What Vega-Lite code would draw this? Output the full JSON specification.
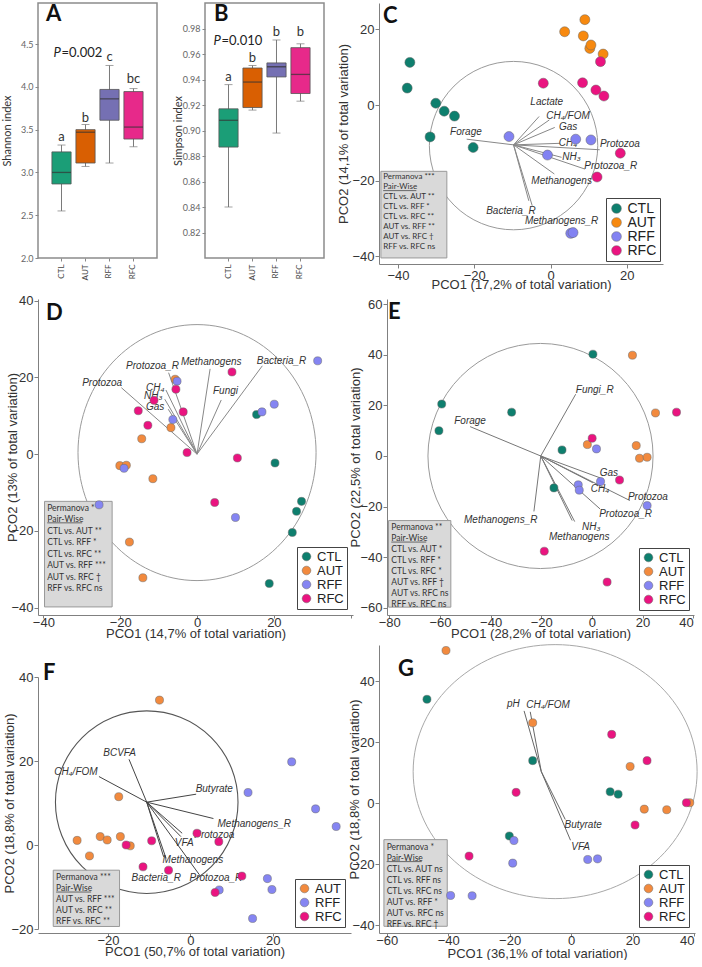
{
"$schema": "https://vega.github.io/schema/vega-lite/v6.json",
"padding": {"left": 0, "top": 2, "right": 0, "bottom": 0},
"background": "white",
"config": {
  "view": {"stroke": null},
  "font": "Liberation Sans",
  "axis": {"labelFont": "Liberation Sans", "labelFontSize": 13, "labelColor": "#333", "titleFont": "Liberation Sans", "titleFontSize": 13, "titleFontWeight": "normal", "titleColor": "#333", "domainColor": "#808080", "tickColor": "#808080", "tickSize": 4, "labelPadding": 1, "grid": false, "labelOverlap": false},
  "legend": {"orient": "bottom-right", "padding": 3, "strokeColor": "#444", "fillColor": "#ffffff", "labelFont": "Liberation Sans", "labelFontSize": 13, "labelColor": "#222", "symbolType": "circle", "symbolSize": 75, "symbolStrokeWidth": 0.5, "symbolStrokeColor": "#666", "rowPadding": 0, "labelOffset": 4, "titlePadding": 0},
  "title": {"anchor": "start", "frame": "group", "font": "Lato", "fontSize": 22, "fontWeight": "bold", "color": "#111", "baseline": "alphabetic"}
},
"resolve": {"scale": {"color": "independent"}, "legend": {"color": "independent"}},
"spacing": 2,
"vconcat": [
{
 "spacing": 48,
 "bounds": "flush",
 "resolve": {"scale": {"color": "independent"}, "legend": {"color": "independent"}},
 "hconcat": [
 {
  "width": 119, "height": 255,
  "view": {"stroke": "#8c8c8c", "strokeWidth": 1.5},
  "title": {"text": "A", "offset": -23, "dx": 8},
  "data": {"values": [
    {"g": "CTL", "lo": 2.55, "q1": 2.865, "med": 3.0, "q3": 3.24, "hi": 3.32, "lab": "a", "ly": 3.415},
    {"g": "AUT", "lo": 3.07, "q1": 3.11, "med": 3.47, "q3": 3.5, "hi": 3.56, "lab": "b", "ly": 3.64},
    {"g": "RFF", "lo": 3.11, "q1": 3.61, "med": 3.86, "q3": 3.97, "hi": 4.25, "lab": "c", "ly": 4.35},
    {"g": "RFC", "lo": 3.3, "q1": 3.39, "med": 3.53, "q3": 3.945, "hi": 3.98, "lab": "bc", "ly": 4.09}
  ]},
  "encoding": {
    "x": {"field": "g", "type": "nominal", "sort": null, "scale": {"domain": ["CTL", "AUT", "RFF", "RFC"], "paddingInner": 0.2, "paddingOuter": 0.58}, "axis": {"title": null, "labelAngle": -90, "labelFont": "Lato", "labelFontSize": 8, "labelColor": "#444", "domain": false, "tickSize": 3, "tickColor": "#888", "labelPadding": 3}}
  },
  "layer": [
    {"mark": {"type": "rule", "color": "#7a7a7a", "strokeWidth": 1}, "encoding": {"y": {"field": "lo", "type": "quantitative", "title": "Shannon index", "scale": {"domain": [2, 4.98], "nice": false, "zero": false}, "axis": {"values": [2, 2.5, 3, 3.5, 4, 4.5], "tickCount": 10, "format": ".1f", "labelFont": "Lato", "labelFontSize": 9, "labelColor": "#666", "titleFont": "Lato", "titleFontSize": 11, "titleColor": "#333", "domain": false, "tickSize": 3, "tickColor": "#888", "labelPadding": 2, "titleX": -25.5, "titleBaseline": "bottom"}}, "y2": {"field": "hi"}}},
    {"mark": {"type": "tick", "color": "#7a7a7a", "size": 8, "thickness": 1}, "encoding": {"y": {"field": "lo", "type": "quantitative", "title": "Shannon index"}}},
    {"mark": {"type": "tick", "color": "#7a7a7a", "size": 8, "thickness": 1}, "encoding": {"y": {"field": "hi", "type": "quantitative", "title": "Shannon index"}}},
    {"mark": {"type": "bar", "stroke": "#555", "strokeWidth": 0.8}, "encoding": {"y": {"field": "q1", "type": "quantitative", "title": "Shannon index"}, "y2": {"field": "q3"}, "color": {"field": "g", "type": "nominal", "scale": {"domain": ["CTL", "AUT", "RFF", "RFC"], "range": ["#1b9e77", "#d95f02", "#7570b3", "#e7298a"]}, "legend": null}}},
    {"mark": {"type": "tick", "color": "#333", "size": 19, "thickness": 1.3}, "encoding": {"y": {"field": "med", "type": "quantitative", "title": "Shannon index"}}},
    {"mark": {"type": "text", "font": "Lato", "fontSize": 13, "color": "#333"}, "encoding": {"y": {"field": "ly", "type": "quantitative", "title": "Shannon index"}, "text": {"field": "lab", "type": "nominal"}}},
    {"data": {"values": [{"g": "CTL", "py": 4.39, "t1": "P", "t2": "=0.002"}]}, "mark": {"type": "text", "font": "Lato", "fontSize": 13, "fontStyle": "italic", "align": "left", "color": "#222", "dx": -8}, "encoding": {"y": {"field": "py", "type": "quantitative", "title": "Shannon index"}, "text": {"field": "t1", "type": "nominal"}}},
    {"data": {"values": [{"g": "CTL", "py": 4.39, "t1": "P", "t2": "=0.002"}]}, "mark": {"type": "text", "font": "Lato", "fontSize": 13, "align": "left", "color": "#222", "dx": 0}, "encoding": {"y": {"field": "py", "type": "quantitative", "title": "Shannon index"}, "text": {"field": "t2", "type": "nominal"}}}
  ]
 },
 {
  "width": 119, "height": 255,
  "view": {"stroke": "#8c8c8c", "strokeWidth": 1.5},
  "title": {"text": "B", "offset": -23, "dx": 9},
  "data": {"values": [
    {"g": "CTL", "lo": 0.84, "q1": 0.887, "med": 0.908, "q3": 0.917, "hi": 0.936, "lab": "a", "ly": 0.9417},
    {"g": "AUT", "lo": 0.916, "q1": 0.918, "med": 0.938, "q3": 0.949, "hi": 0.951, "lab": "b", "ly": 0.9571},
    {"g": "RFF", "lo": 0.898, "q1": 0.942, "med": 0.95, "q3": 0.953, "hi": 0.971, "lab": "b", "ly": 0.9773},
    {"g": "RFC", "lo": 0.923, "q1": 0.929, "med": 0.944, "q3": 0.965, "hi": 0.968, "lab": "b", "ly": 0.9773}
  ]},
  "encoding": {
    "x": {"field": "g", "type": "nominal", "sort": null, "scale": {"domain": ["CTL", "AUT", "RFF", "RFC"], "paddingInner": 0.2, "paddingOuter": 0.58}, "axis": {"title": null, "labelAngle": -90, "labelFont": "Lato", "labelFontSize": 8, "labelColor": "#444", "domain": false, "tickSize": 3, "tickColor": "#888", "labelPadding": 3}}
  },
  "layer": [
    {"mark": {"type": "rule", "color": "#7a7a7a", "strokeWidth": 1}, "encoding": {"y": {"field": "lo", "type": "quantitative", "title": "Simpson index", "scale": {"domain": [0.8, 1.0], "nice": false, "zero": false}, "axis": {"values": [0.82, 0.84, 0.86, 0.88, 0.9, 0.92, 0.94, 0.96, 0.98], "tickCount": 12, "format": ".2f", "labelOverlap": false, "labelFont": "Lato", "labelFontSize": 9, "labelColor": "#666", "titleFont": "Lato", "titleFontSize": 11, "titleColor": "#333", "domain": false, "tickSize": 3, "tickColor": "#888", "labelPadding": 2, "titleX": -21.5, "titleBaseline": "bottom"}}, "y2": {"field": "hi"}}},
    {"mark": {"type": "tick", "color": "#7a7a7a", "size": 8, "thickness": 1}, "encoding": {"y": {"field": "lo", "type": "quantitative", "title": "Simpson index"}}},
    {"mark": {"type": "tick", "color": "#7a7a7a", "size": 8, "thickness": 1}, "encoding": {"y": {"field": "hi", "type": "quantitative", "title": "Simpson index"}}},
    {"mark": {"type": "bar", "stroke": "#555", "strokeWidth": 0.8}, "encoding": {"y": {"field": "q1", "type": "quantitative", "title": "Simpson index"}, "y2": {"field": "q3"}, "color": {"field": "g", "type": "nominal", "scale": {"domain": ["CTL", "AUT", "RFF", "RFC"], "range": ["#1b9e77", "#d95f02", "#7570b3", "#e7298a"]}, "legend": null}}},
    {"mark": {"type": "tick", "color": "#333", "size": 19, "thickness": 1.3}, "encoding": {"y": {"field": "med", "type": "quantitative", "title": "Simpson index"}}},
    {"mark": {"type": "text", "font": "Lato", "fontSize": 13, "color": "#333"}, "encoding": {"y": {"field": "ly", "type": "quantitative", "title": "Simpson index"}, "text": {"field": "lab", "type": "nominal"}}},
    {"data": {"values": [{"g": "CTL", "py": 0.9705, "t1": "P", "t2": "=0.010"}]}, "mark": {"type": "text", "font": "Lato", "fontSize": 13, "fontStyle": "italic", "align": "left", "color": "#222", "dx": -15}, "encoding": {"y": {"field": "py", "type": "quantitative", "title": "Simpson index"}, "text": {"field": "t1", "type": "nominal"}}},
    {"data": {"values": [{"g": "CTL", "py": 0.9705, "t1": "P", "t2": "=0.010"}]}, "mark": {"type": "text", "font": "Lato", "fontSize": 13, "align": "left", "color": "#222", "dx": -7}, "encoding": {"y": {"field": "py", "type": "quantitative", "title": "Simpson index"}, "text": {"field": "t2", "type": "nominal"}}}
  ]
 },
 {
  "width": 291, "height": 261,
  "title": {"text": "C", "offset": -25, "dx": 11},
  "encoding": {
    "x": {"field": "x", "type": "quantitative", "scale": {"domain": [-45, 29.5], "range": [7, 291], "nice": false, "zero": false}, "axis": {"values": [-40, -20, 0, 20], "title": "PCO1 (17,2% of total variation)", "labelPadding": 1.5, "titlePadding": -4}},
    "y": {"field": "y", "type": "quantitative", "scale": {"domain": [-42, 27], "nice": false, "zero": false}, "axis": {"values": [-40, -20, 0, 20], "title": "PCO2 (14,1% of total variation)", "offset": -7, "titleX": -28.5, "titleBaseline": "bottom"}}
  },
  "layer": [
    {"data": {"values": [{"x": -9.7, "y": -10.7}]}, "mark": {"type": "point", "shape": "circle", "size": 28353, "filled": false, "color": "#9a9a9a", "strokeWidth": 1, "opacity": 1}},
    {"data": {"values": [
      {"x": -9.7, "y": -10.5, "x2": -3.0, "y2": -3.0},
      {"x": -9.7, "y": -10.5, "x2": -0.3, "y2": -3.9},
      {"x": -9.7, "y": -10.5, "x2": 1.1, "y2": -5.9},
      {"x": -9.7, "y": -10.5, "x2": 2.4, "y2": -10.1},
      {"x": -9.7, "y": -10.5, "x2": 12.9, "y2": -11.8},
      {"x": -9.7, "y": -10.5, "x2": 2.9, "y2": -13.8},
      {"x": -9.7, "y": -10.5, "x2": 9.0, "y2": -16.9},
      {"x": -9.7, "y": -10.5, "x2": 1.0, "y2": -18.2},
      {"x": -9.7, "y": -10.5, "x2": -5.7, "y2": -25.3},
      {"x": -9.7, "y": -10.5, "x2": -4.8, "y2": -26.6},
      {"x": -9.7, "y": -10.5, "x2": -22.0, "y2": -9.0}
    ]}, "mark": {"type": "rule", "color": "#888", "strokeWidth": 1}, "encoding": {"x2": {"field": "x2"}, "y2": {"field": "y2"}}},
    {"data": {"values": [
      {"x": -1.0, "y": 0.7, "t": "Lactate"},
      {"x": 4.6, "y": -2.8, "t": "CH₄/FOM"},
      {"x": 4.6, "y": -5.8, "t": "Gas"},
      {"x": 4.6, "y": -10.0, "t": "CH₄"},
      {"x": 18.2, "y": -10.3, "t": "Protozoa"},
      {"x": 5.5, "y": -13.7, "t": "NH₃"},
      {"x": 15.8, "y": -16.2, "t": "Protozoa_R"},
      {"x": 2.9, "y": -20.0, "t": "Methanogens"},
      {"x": -10.4, "y": -27.9, "t": "Bacteria_R"},
      {"x": 2.9, "y": -30.6, "t": "Methanogens_R"},
      {"x": -22.2, "y": -7.2, "t": "Forage"}
    ]}, "mark": {"type": "text", "font": "Liberation Sans", "fontStyle": "italic", "fontSize": 10, "color": "#333"}, "encoding": {"text": {"field": "t", "type": "nominal"}}},
    {"data": {"values": [{"x": -44.5, "y": -17.5, "x2": -27.2, "y2": -40.4}]}, "mark": {"type": "rect", "fill": "#d9d9d9", "stroke": "#999", "strokeWidth": 1}, "encoding": {"x2": {"field": "x2"}, "y2": {"field": "y2"}}},
    {"data": {"values": [{"x": -43.9, "y": -18.0, "lines": ["Permanova ***", "Pair-Wise", "CTL vs. AUT **", "CTL vs. RFF *", "CTL vs. RFC **", "AUT vs. RFF **", "AUT vs. RFC †", "RFF vs. RFC  ns"]}]}, "mark": {"type": "text", "font": "Lato", "fontSize": 8, "lineHeight": 10, "align": "left", "baseline": "top", "color": "#333"}, "encoding": {"text": {"field": "lines", "type": "nominal"}}},
    {"data": {"values": [{"x": -43.9, "x2": -35.2, "y": -22.6}]}, "mark": {"type": "rule", "color": "#333", "strokeWidth": 0.7}, "encoding": {"x2": {"field": "x2"}}},
    {"data": {"values": [
      {"g": "CTL", "x": -36.9, "y": 11.3}, {"g": "CTL", "x": -37.6, "y": 4.5}, {"g": "CTL", "x": -30.1, "y": 0.5}, {"g": "CTL", "x": -27.9, "y": -1.6}, {"g": "CTL", "x": -25.2, "y": -2.9}, {"g": "CTL", "x": -31.6, "y": -8.4}, {"g": "CTL", "x": -20.3, "y": -11.2},
      {"g": "AUT", "x": 3.7, "y": 19.4}, {"g": "AUT", "x": 9.0, "y": 22.6}, {"g": "AUT", "x": 8.6, "y": 18.3}, {"g": "AUT", "x": 10.3, "y": 15.0}, {"g": "AUT", "x": 10.6, "y": 15.9}, {"g": "AUT", "x": 13.8, "y": 13.5},
      {"g": "RFF", "x": -10.9, "y": -8.3}, {"g": "RFF", "x": 6.6, "y": -9.0}, {"g": "RFF", "x": 10.6, "y": -9.2}, {"g": "RFF", "x": -0.8, "y": -13.2}, {"g": "RFF", "x": 5.3, "y": -33.9}, {"g": "RFF", "x": 5.9, "y": -33.7},
      {"g": "RFC", "x": 13.1, "y": 11.5}, {"g": "RFC", "x": -1.9, "y": 5.8}, {"g": "RFC", "x": 8.4, "y": 5.9}, {"g": "RFC", "x": 11.9, "y": 4.0}, {"g": "RFC", "x": 14.0, "y": 2.4}, {"g": "RFC", "x": 18.3, "y": -12.7}, {"g": "RFC", "x": 12.2, "y": -19.0}
    ]}, "mark": {"type": "point", "filled": true, "size": 100, "stroke": "#666", "strokeWidth": 0.5, "opacity": 1},
     "encoding": {"color": {"field": "g", "type": "nominal", "scale": {"domain": ["CTL", "AUT", "RFF", "RFC"], "range": ["#0e7f6e", "#f7890f", "#8282f2", "#ea1480"]}, "legend": {"title": null, "offset": 3, "symbolSize": 95, "labelFontSize": 14, "padding": 3.5}}}}
  ]
 }
 ]
},
{
 "spacing": 34,
 "bounds": "flush",
 "resolve": {"scale": {"color": "independent"}, "legend": {"color": "independent"}},
 "hconcat": [
 {
  "width": 315, "height": 316,
  "title": {"text": "D", "offset": -30, "dx": 8},
  "encoding": {
    "x": {"field": "x", "type": "quantitative", "scale": {"domain": [-41.4, 40.6], "nice": false, "zero": false}, "axis": {"values": [-40, -20, 0, 20, 40], "labelExpr": "datum.value == 40 ? '' : datum.label", "title": "PCO1 (14,7% of total variation)", "tickSize": 3, "labelPadding": -2, "titlePadding": -2}},
    "y": {"field": "y", "type": "quantitative", "scale": {"domain": [-41.9, 40.4], "nice": false, "zero": false}, "axis": {"values": [-40, -20, 0, 20, 40], "title": "PCO2 (13% of total variation)", "titleX": -19, "titleBaseline": "bottom"}}
  },
  "layer": [
    {"data": {"values": [{"x": 0, "y": 0.4}]}, "mark": {"type": "point", "shape": "M 0.93,0 C 0.93,0.5523 0.5136,1 0,1 C -0.5136,1 -0.93,0.5523 -0.93,0 C -0.93,-0.5523 -0.5136,-1 0,-1 C 0.5136,-1 0.93,-0.5523 0.93,0 Z", "size": 65536, "filled": false, "color": "#9a9a9a", "strokeWidth": 1, "opacity": 1}},
    {"data": {"values": [
      {"x": 0, "y": 0, "x2": 17.0, "y2": 23.0},
      {"x": 0, "y": 0, "x2": 3.4, "y2": 22.2},
      {"x": 0, "y": 0, "x2": 6.3, "y2": 14.1},
      {"x": 0, "y": 0, "x2": -7.4, "y2": 21.2},
      {"x": 0, "y": 0, "x2": -8.1, "y2": 16.7},
      {"x": 0, "y": 0, "x2": -8.4, "y2": 14.3},
      {"x": 0, "y": 0, "x2": -7.5, "y2": 11.7},
      {"x": 0, "y": 0, "x2": -19.7, "y2": 17.3}
    ]}, "mark": {"type": "rule", "color": "#888", "strokeWidth": 1}, "encoding": {"x2": {"field": "x2"}, "y2": {"field": "y2"}}},
    {"data": {"values": [
      {"x": 22.0, "y": 24.3, "t": "Bacteria_R"},
      {"x": 3.7, "y": 24.1, "t": "Methanogens"},
      {"x": 7.4, "y": 16.4, "t": "Fungi"},
      {"x": -11.6, "y": 23.0, "t": "Protozoa_R"},
      {"x": -10.9, "y": 17.3, "t": "CH₄"},
      {"x": -11.4, "y": 15.1, "t": "NH₃"},
      {"x": -10.9, "y": 12.2, "t": "Gas"},
      {"x": -24.7, "y": 18.4, "t": "Protozoa"}
    ]}, "mark": {"type": "text", "font": "Liberation Sans", "fontStyle": "italic", "fontSize": 10, "color": "#333"}, "encoding": {"text": {"field": "t", "type": "nominal"}}},
    {"data": {"values": [{"x": -39.7, "y": -12.3, "x2": -22.1, "y2": -39.8}]}, "mark": {"type": "rect", "fill": "#d9d9d9", "stroke": "#999", "strokeWidth": 1}, "encoding": {"x2": {"field": "x2"}, "y2": {"field": "y2"}}},
    {"data": {"values": [{"x": -39.0, "y": -12.9, "lines": ["Permanova ***", "Pair-Wise", "CTL vs. AUT **", "CTL vs. RFF *", "CTL vs. RFC **", "AUT vs. RFF ***", "AUT vs. RFC †", "RFF vs. RFC  ns"]}]}, "mark": {"type": "text", "font": "Lato", "fontSize": 8.5, "lineHeight": 11.5, "align": "left", "baseline": "top", "color": "#333"}, "encoding": {"text": {"field": "lines", "type": "nominal"}}},
    {"data": {"values": [{"x": -39.0, "x2": -29.9, "y": -17.9}]}, "mark": {"type": "rule", "color": "#333", "strokeWidth": 0.7}, "encoding": {"x2": {"field": "x2"}}},
    {"data": {"values": [
      {"g": "CTL", "x": 15.5, "y": 10.3}, {"g": "CTL", "x": 20.3, "y": -2.3}, {"g": "CTL", "x": 27.2, "y": -12.3}, {"g": "CTL", "x": 25.9, "y": -14.9}, {"g": "CTL", "x": 24.8, "y": -20.4}, {"g": "CTL", "x": 18.8, "y": -33.7},
      {"g": "AUT", "x": -5.7, "y": 19.5}, {"g": "AUT", "x": -6.8, "y": 6.9}, {"g": "AUT", "x": -14.4, "y": 4.0}, {"g": "AUT", "x": -20.1, "y": -3.0}, {"g": "AUT", "x": -18.4, "y": -2.9}, {"g": "AUT", "x": -11.5, "y": -6.4}, {"g": "AUT", "x": -17.6, "y": -22.9}, {"g": "AUT", "x": -14.1, "y": -32.2},
      {"g": "RFF", "x": 31.4, "y": 24.3}, {"g": "RFF", "x": -5.2, "y": 19.0}, {"g": "RFF", "x": -6.3, "y": 9.0}, {"g": "RFF", "x": 20.1, "y": 13.0}, {"g": "RFF", "x": 16.9, "y": 11.0}, {"g": "RFF", "x": -19.0, "y": -3.7}, {"g": "RFF", "x": -25.5, "y": -13.2}, {"g": "RFF", "x": 10.0, "y": -16.5},
      {"g": "RFC", "x": 9.1, "y": 21.4}, {"g": "RFC", "x": -5.5, "y": 16.9}, {"g": "RFC", "x": -11.2, "y": 14.0}, {"g": "RFC", "x": -15.3, "y": 11.3}, {"g": "RFC", "x": -3.6, "y": 11.0}, {"g": "RFC", "x": -12.8, "y": 7.5}, {"g": "RFC", "x": -2.6, "y": 0.4}, {"g": "RFC", "x": 10.5, "y": -1.0}, {"g": "RFC", "x": 4.6, "y": -12.6}
    ]}, "mark": {"type": "point", "filled": true, "size": 65, "stroke": "#666", "strokeWidth": 0.5, "opacity": 1},
     "encoding": {"color": {"field": "g", "type": "nominal", "scale": {"domain": ["CTL", "AUT", "RFF", "RFC"], "range": ["#0e7f6e", "#f28a3e", "#8585f2", "#ea1480"]}, "legend": {"title": null, "offset": 6}}}}
  ]
 },
 {
  "width": 307, "height": 316,
  "title": {"text": "E", "offset": -26, "dx": 1},
  "encoding": {
    "x": {"field": "x", "type": "quantitative", "scale": {"domain": [-80.9, 40.3], "nice": false, "zero": false}, "axis": {"values": [-80, -60, -40, -20, 0, 20, 40], "title": "PCO1 (28,2% of total variation)", "tickSize": 3, "labelPadding": -2, "titlePadding": -2}},
    "y": {"field": "y", "type": "quantitative", "scale": {"domain": [-62.8, 62.0], "nice": false, "zero": false}, "axis": {"values": [-60, -40, -20, 0, 20, 40, 60], "title": "PCO2 (22,5% of total variation)", "titleX": -25, "titleBaseline": "bottom"}}
  },
  "layer": [
    {"data": {"values": [{"x": -20.3, "y": 0}]}, "mark": {"type": "point", "shape": "circle", "size": 50671, "filled": false, "color": "#9a9a9a", "strokeWidth": 1, "opacity": 1}},
    {"data": {"values": [
      {"x": -20.2, "y": 0, "x2": -6.4, "y2": 24.4},
      {"x": -20.2, "y": 0, "x2": -48.1, "y2": 11.6},
      {"x": -20.2, "y": 0, "x2": -22.9, "y2": -21.9},
      {"x": -20.2, "y": 0, "x2": 3.4, "y2": -8.7},
      {"x": -20.2, "y": 0, "x2": 0.4, "y2": -10.6},
      {"x": -20.2, "y": 0, "x2": 15.0, "y2": -17.6},
      {"x": -20.2, "y": 0, "x2": 3.2, "y2": -20.9},
      {"x": -20.2, "y": 0, "x2": -6.8, "y2": -25.9},
      {"x": -20.2, "y": 0, "x2": -7.8, "y2": -25.5}
    ]}, "mark": {"type": "rule", "color": "#777", "strokeWidth": 1}, "encoding": {"x2": {"field": "x2"}, "y2": {"field": "y2"}}},
    {"data": {"values": [
      {"x": 1.1, "y": 26.0, "t": "Fungi_R"},
      {"x": -48.1, "y": 13.9, "t": "Forage"},
      {"x": -36.0, "y": -25.2, "t": "Methanogens_R"},
      {"x": 6.7, "y": -6.6, "t": "Gas"},
      {"x": 3.2, "y": -13.0, "t": "CH₄"},
      {"x": 22.1, "y": -16.3, "t": "Protozoa"},
      {"x": 13.3, "y": -23.0, "t": "Protozoa_R"},
      {"x": -0.3, "y": -28.1, "t": "NH₃"},
      {"x": -5.0, "y": -31.9, "t": "Methanogens"}
    ]}, "mark": {"type": "text", "font": "Liberation Sans", "fontStyle": "italic", "fontSize": 10, "color": "#333"}, "encoding": {"text": {"field": "t", "type": "nominal"}}},
    {"data": {"values": [{"x": -80.3, "y": -25.5, "x2": -55.7, "y2": -59.7}]}, "mark": {"type": "rect", "fill": "#d9d9d9", "stroke": "#999", "strokeWidth": 1}, "encoding": {"x2": {"field": "x2"}, "y2": {"field": "y2"}}},
    {"data": {"values": [{"x": -79.2, "y": -26.6, "lines": ["Permanova **", "Pair-Wise", "CTL vs. AUT *", "CTL vs. RFF *", "CTL vs. RFC *", "AUT vs. RFF †", "AUT vs. RFC ns", "RFF vs. RFC  ns"]}]}, "mark": {"type": "text", "font": "Lato", "fontSize": 8.5, "lineHeight": 11, "align": "left", "baseline": "top", "color": "#333"}, "encoding": {"text": {"field": "lines", "type": "nominal"}}},
    {"data": {"values": [{"x": -79.2, "x2": -65.4, "y": -34.0}]}, "mark": {"type": "rule", "color": "#333", "strokeWidth": 0.7}, "encoding": {"x2": {"field": "x2"}}},
    {"data": {"values": [
      {"g": "CTL", "x": 0.4, "y": 40.2}, {"g": "CTL", "x": -59.3, "y": 20.5}, {"g": "CTL", "x": -60.4, "y": 10.0}, {"g": "CTL", "x": -31.7, "y": 17.3}, {"g": "CTL", "x": -11.8, "y": 2.4}, {"g": "CTL", "x": -15.0, "y": -12.6},
      {"g": "AUT", "x": 16.0, "y": 39.8}, {"g": "AUT", "x": 25.1, "y": 17.0}, {"g": "AUT", "x": -1.8, "y": 4.5}, {"g": "AUT", "x": 17.5, "y": 4.1}, {"g": "AUT", "x": 18.8, "y": -0.9}, {"g": "AUT", "x": 21.8, "y": -0.5},
      {"g": "RFF", "x": 1.8, "y": 2.8}, {"g": "RFF", "x": 3.4, "y": -10.1}, {"g": "RFF", "x": -5.4, "y": -11.4}, {"g": "RFF", "x": -5.0, "y": -13.5}, {"g": "RFF", "x": 21.8, "y": -19.6},
      {"g": "RFC", "x": 33.4, "y": 17.3}, {"g": "RFC", "x": 0.1, "y": 7.0}, {"g": "RFC", "x": 10.9, "y": -9.5}, {"g": "RFC", "x": -18.8, "y": -37.6}, {"g": "RFC", "x": 6.0, "y": -49.8}
    ]}, "mark": {"type": "point", "filled": true, "size": 65, "stroke": "#666", "strokeWidth": 0.5, "opacity": 1},
     "encoding": {"color": {"field": "g", "type": "nominal", "scale": {"domain": ["CTL", "AUT", "RFF", "RFC"], "range": ["#0e7f6e", "#f28a3e", "#8585f2", "#ea1480"]}, "legend": {"title": null, "offset": 5}}}}
  ]
 }
 ]
},
{
 "spacing": 28,
 "bounds": "flush",
 "resolve": {"scale": {"color": "independent"}, "legend": {"color": "independent"}},
 "hconcat": [
 {
  "width": 313, "height": 288,
  "title": {"text": "F", "offset": -40, "dx": 5},
  "encoding": {
    "x": {"field": "x", "type": "quantitative", "scale": {"domain": [-37, 39], "nice": false, "zero": false}, "axis": {"values": [-20, 0, 20], "title": "PCO1 (50,7% of total variation)", "tickSize": 3, "labelPadding": -2, "titlePadding": -2}},
    "y": {"field": "y", "type": "quantitative", "scale": {"domain": [-20, 40], "range": [284, 32], "nice": false, "zero": false}, "axis": {"values": [-20, 0, 20, 40], "title": "PCO2 (18,8% of total variation)", "titleX": -22, "titleBaseline": "bottom"}}
  },
  "layer": [
    {"data": {"values": [{"x": -10.6, "y": 10.2}]}, "mark": {"type": "point", "shape": "circle", "size": 33329, "filled": false, "color": "#555", "strokeWidth": 1.1, "opacity": 1}},
    {"data": {"values": [
      {"x": -10.6, "y": 10.2, "x2": -14.9, "y2": 20.4},
      {"x": -10.6, "y": 10.2, "x2": -22.2, "y2": 16.3},
      {"x": -10.6, "y": 10.2, "x2": 1.4, "y2": 12.1},
      {"x": -10.6, "y": 10.2, "x2": 5.6, "y2": 6.3},
      {"x": -10.6, "y": 10.2, "x2": -2.0, "y2": 2.8},
      {"x": -10.6, "y": 10.2, "x2": -2.3, "y2": 2.0},
      {"x": -10.6, "y": 10.2, "x2": -5.9, "y2": -3.2},
      {"x": -10.6, "y": 10.2, "x2": -6.5, "y2": -2.8},
      {"x": -10.6, "y": 10.2, "x2": 2.2, "y2": -7.1}
    ]}, "mark": {"type": "rule", "color": "#444", "strokeWidth": 1}, "encoding": {"x2": {"field": "x2"}, "y2": {"field": "y2"}}},
    {"data": {"values": [
      {"x": -17.2, "y": 21.8, "t": "BCVFA"},
      {"x": -27.8, "y": 17.5, "t": "CH₄/FOM"},
      {"x": 5.8, "y": 13.3, "t": "Butyrate"},
      {"x": 15.5, "y": 5.0, "t": "Methanogens_R"},
      {"x": 5.8, "y": 2.4, "t": "Protozoa"},
      {"x": -1.5, "y": 0.4, "t": "VFA"},
      {"x": 0.6, "y": -3.6, "t": "Methanogens"},
      {"x": -8.3, "y": -7.9, "t": "Bacteria_R"},
      {"x": 6.2, "y": -7.9, "t": "Protozoa_R"}
    ]}, "mark": {"type": "text", "font": "Liberation Sans", "fontStyle": "italic", "fontSize": 10, "color": "#333"}, "encoding": {"text": {"field": "t", "type": "nominal"}}},
    {"data": {"values": [{"x": -33.3, "y": -6.0, "x2": -17.2, "y2": -19.4}]}, "mark": {"type": "rect", "fill": "#d9d9d9", "stroke": "#999", "strokeWidth": 1}, "encoding": {"x2": {"field": "x2"}, "y2": {"field": "y2"}}},
    {"data": {"values": [{"x": -32.6, "y": -6.7, "lines": ["Permanova ***", "Pair-Wise", "AUT vs. RFF ***", "AUT vs. RFC **", "RFF vs. RFC  **"]}]}, "mark": {"type": "text", "font": "Lato", "fontSize": 8.5, "lineHeight": 11, "align": "left", "baseline": "top", "color": "#333"}, "encoding": {"text": {"field": "lines", "type": "nominal"}}},
    {"data": {"values": [{"x": -32.6, "x2": -24.1, "y": -11.2}]}, "mark": {"type": "rule", "color": "#333", "strokeWidth": 0.7}, "encoding": {"x2": {"field": "x2"}}},
    {"data": {"values": [
      {"g": "AUT", "x": -7.5, "y": 34.5}, {"g": "AUT", "x": -17.4, "y": 11.5}, {"g": "AUT", "x": -27.5, "y": 1.1}, {"g": "AUT", "x": -24.5, "y": -2.6}, {"g": "AUT", "x": -21.9, "y": 2.0}, {"g": "AUT", "x": -20.2, "y": 1.2}, {"g": "AUT", "x": -17.0, "y": 2.0}, {"g": "AUT", "x": -14.6, "y": -0.2},
      {"g": "RFF", "x": 7.0, "y": -10.7}, {"g": "RFF", "x": 24.6, "y": 19.8}, {"g": "RFF", "x": 14.0, "y": 12.5}, {"g": "RFF", "x": 30.4, "y": 8.6}, {"g": "RFF", "x": 35.4, "y": 4.4}, {"g": "RFF", "x": 18.7, "y": -8.0}, {"g": "RFF", "x": 19.8, "y": -10.6}, {"g": "RFF", "x": 15.1, "y": -17.5},
      {"g": "RFC", "x": -15.6, "y": 0.0}, {"g": "RFC", "x": -9.4, "y": 1.0}, {"g": "RFC", "x": -11.5, "y": -5.2}, {"g": "RFC", "x": -5.3, "y": -6.0}, {"g": "RFC", "x": 1.6, "y": 2.8}, {"g": "RFC", "x": 6.9, "y": 0.8}, {"g": "RFC", "x": 12.5, "y": -7.4}, {"g": "RFC", "x": 6.0, "y": -11.3}
    ]}, "mark": {"type": "point", "filled": true, "size": 65, "stroke": "#666", "strokeWidth": 0.5, "opacity": 1},
     "encoding": {"color": {"field": "g", "type": "nominal", "scale": {"domain": ["AUT", "RFF", "RFC"], "range": ["#f28a3e", "#8585f2", "#ea1480"]}, "legend": {"title": null, "offset": 6}}}}
  ]
 },
 {
  "width": 316, "height": 288,
  "title": {"text": "G", "offset": -38, "dx": 19},
  "encoding": {
    "x": {"field": "x", "type": "quantitative", "scale": {"domain": [-62.5, 40.3], "nice": false, "zero": false}, "axis": {"values": [-60, -40, -20, 0, 20, 40], "title": "PCO1 (36,1% of total variation)", "tickSize": 3, "labelPadding": -2, "titlePadding": 0}},
    "y": {"field": "y", "type": "quantitative", "scale": {"domain": [-42.6, 51.8], "nice": false, "zero": false}, "axis": {"values": [-40, -20, 0, 20, 40], "title": "PCO2 (18,8% of total variation)", "titleX": -18, "titleBaseline": "bottom"}}
  },
  "layer": [
    {"data": {"values": [{"x": -5.2, "y": 10.3}]}, "mark": {"type": "point", "shape": "M 1.118,0 C 1.118,0.5523 0.6175,1 0,1 C -0.6175,1 -1.118,0.5523 -1.118,0 C -1.118,-0.5523 -0.6175,-1 0,-1 C 0.6175,-1 1.118,-0.5523 1.118,0 Z", "size": 64516, "filled": false, "color": "#a8a8a8", "strokeWidth": 1, "opacity": 1}},
    {"data": {"values": [
      {"x": -9.7, "y": 10.3, "x2": -15.3, "y2": 30.2},
      {"x": -9.7, "y": 10.3, "x2": -13.3, "y2": 29.9},
      {"x": -9.7, "y": 10.3, "x2": -1.9, "y2": -5.4},
      {"x": -9.7, "y": 10.3, "x2": -0.2, "y2": -12.2}
    ]}, "mark": {"type": "rule", "color": "#666", "strokeWidth": 1}, "encoding": {"x2": {"field": "x2"}, "y2": {"field": "y2"}}},
    {"data": {"values": [
      {"x": -18.8, "y": 32.4, "t": "pH"},
      {"x": -7.5, "y": 32.1, "t": "CH₄/FOM"},
      {"x": 3.9, "y": -7.1, "t": "Butyrate"},
      {"x": 3.1, "y": -14.3, "t": "VFA"}
    ]}, "mark": {"type": "text", "font": "Liberation Sans", "fontStyle": "italic", "fontSize": 10, "color": "#333"}, "encoding": {"text": {"field": "t", "type": "nominal"}}},
    {"data": {"values": [{"x": -60.9, "y": -12.0, "x2": -40.3, "y2": -40.4}]}, "mark": {"type": "rect", "fill": "#d9d9d9", "stroke": "#999", "strokeWidth": 1}, "encoding": {"x2": {"field": "x2"}, "y2": {"field": "y2"}}},
    {"data": {"values": [{"x": -60.0, "y": -13.0, "lines": ["Permanova *", "Pair-Wise", "CTL vs. AUT ns", "CTL vs. RFF ns", "CTL vs. RFC ns", "AUT vs. RFF *", "AUT vs. RFC ns", "RFF vs. RFC  †"]}]}, "mark": {"type": "text", "font": "Lato", "fontSize": 8.5, "lineHeight": 11, "align": "left", "baseline": "top", "color": "#333"}, "encoding": {"text": {"field": "lines", "type": "nominal"}}},
    {"data": {"values": [{"x": -60.0, "x2": -48.6, "y": -19.2}]}, "mark": {"type": "rule", "color": "#333", "strokeWidth": 0.7}, "encoding": {"x2": {"field": "x2"}}},
    {"data": {"values": [
      {"g": "CTL", "x": -46.9, "y": 34.0}, {"g": "CTL", "x": -12.5, "y": 13.9}, {"g": "CTL", "x": 12.7, "y": 3.7}, {"g": "CTL", "x": 15.3, "y": 2.9}, {"g": "CTL", "x": -20.1, "y": -10.8},
      {"g": "AUT", "x": -40.7, "y": 50.0}, {"g": "AUT", "x": -12.5, "y": 26.3}, {"g": "AUT", "x": 19.2, "y": 12.0}, {"g": "AUT", "x": 23.8, "y": -2.0}, {"g": "AUT", "x": 31.1, "y": -2.2}, {"g": "AUT", "x": 38.6, "y": 0.1},
      {"g": "RFF", "x": -18.6, "y": -12.3}, {"g": "RFF", "x": -19.0, "y": -19.7}, {"g": "RFF", "x": 5.4, "y": -18.5}, {"g": "RFF", "x": 8.6, "y": -18.3}, {"g": "RFF", "x": -39.2, "y": -30.3}, {"g": "RFF", "x": -32.2, "y": -30.4},
      {"g": "RFC", "x": 13.2, "y": 22.5}, {"g": "RFC", "x": 24.7, "y": 13.9}, {"g": "RFC", "x": -17.9, "y": 3.5}, {"g": "RFC", "x": 37.5, "y": 0.1}, {"g": "RFC", "x": 20.8, "y": -7.2}, {"g": "RFC", "x": -33.2, "y": -17.4}
    ]}, "mark": {"type": "point", "filled": true, "size": 65, "stroke": "#666", "strokeWidth": 0.5, "opacity": 1},
     "encoding": {"color": {"field": "g", "type": "nominal", "scale": {"domain": ["CTL", "AUT", "RFF", "RFC"], "range": ["#0e7f6e", "#f28a3e", "#8585f2", "#ea1480"]}, "legend": {"title": null, "offset": 6}}}}
  ]
 }
 ]
}
]
}
